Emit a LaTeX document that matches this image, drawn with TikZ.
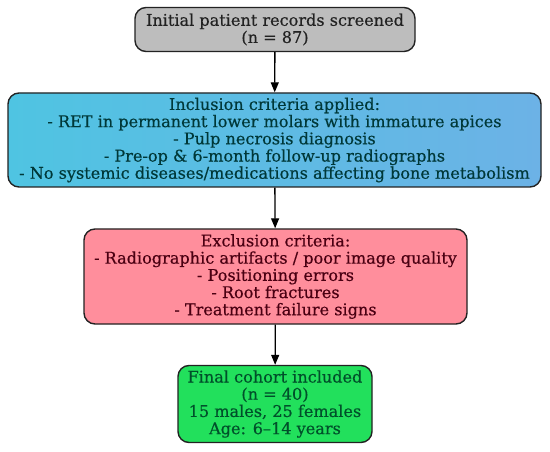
\documentclass[tikz,border=0pt]{standalone}
\usepackage{fontspec}
\setmainfont{DejaVu Serif}[FakeBold=0.4]
\usetikzlibrary{arrows.meta, positioning}
\definecolor{flowGray}{HTML}{BDBDBD}
\definecolor{flowBlueL}{HTML}{4FC4E2}
\definecolor{flowBlueR}{HTML}{6CB2E6}
\definecolor{flowPink}{HTML}{FF8E9C}
\definecolor{flowGreen}{HTML}{22E05C}
\definecolor{flowInk}{HTML}{222222}
\definecolor{flowTeal}{HTML}{003838}
\definecolor{flowWine}{HTML}{4A0012}
\definecolor{flowPine}{HTML}{00502A}

\begin{document}
\begin{tikzpicture}[
  x=1pt, y=-1pt,
  stage/.style={draw=flowInk, line width=1.4pt, rounded corners=11pt,
    align=center, inner sep=0pt, font=\fontsize{16.1}{17.2}\selectfont},
  arr/.style={draw=black, line width=1.3pt,
    -{Triangle[length=10pt, width=8pt]}},
]
\useasboundingbox (0,0) rectangle (550,452);

% ============================ the four stages ================================
\node[stage, fill=flowGray, text=flowInk,
      minimum width=280pt, minimum height=44pt] (screened) at (275,29.5)
  {Initial patient records screened\\(n = 87)};

\node[stage, left color=flowBlueL, right color=flowBlueR, text=flowTeal,
      minimum width=533pt, minimum height=94pt] (inclusion) at (274.5,140)
  {Inclusion criteria applied:\\
   - RET in permanent lower molars with immature apices\\
   - Pulp necrosis diagnosis\\
   - Pre-op \& 6-month follow-up radiographs\\
   - No systemic diseases/medications affecting bone metabolism};

\node[stage, fill=flowPink, text=flowWine,
      minimum width=383pt, minimum height=95pt] (exclusion) at (275.5,276.5)
  {Exclusion criteria:\\
   - Radiographic artifacts / poor image quality\\
   - Positioning errors\\
   - Root fractures\\
   - Treatment failure signs};

\node[stage, fill=flowGreen, text=flowPine,
      minimum width=194pt, minimum height=77pt] (cohort) at (275,404)
  {Final cohort included\\(n = 40)\\15 males, 25 females\\Age: 6--14 years};

% ============================== the arrows ===================================
\draw[arr] (screened) -- (inclusion);
\draw[arr] (inclusion) -- (exclusion);
\draw[arr] (exclusion) -- (cohort);
\end{tikzpicture}
\end{document}
